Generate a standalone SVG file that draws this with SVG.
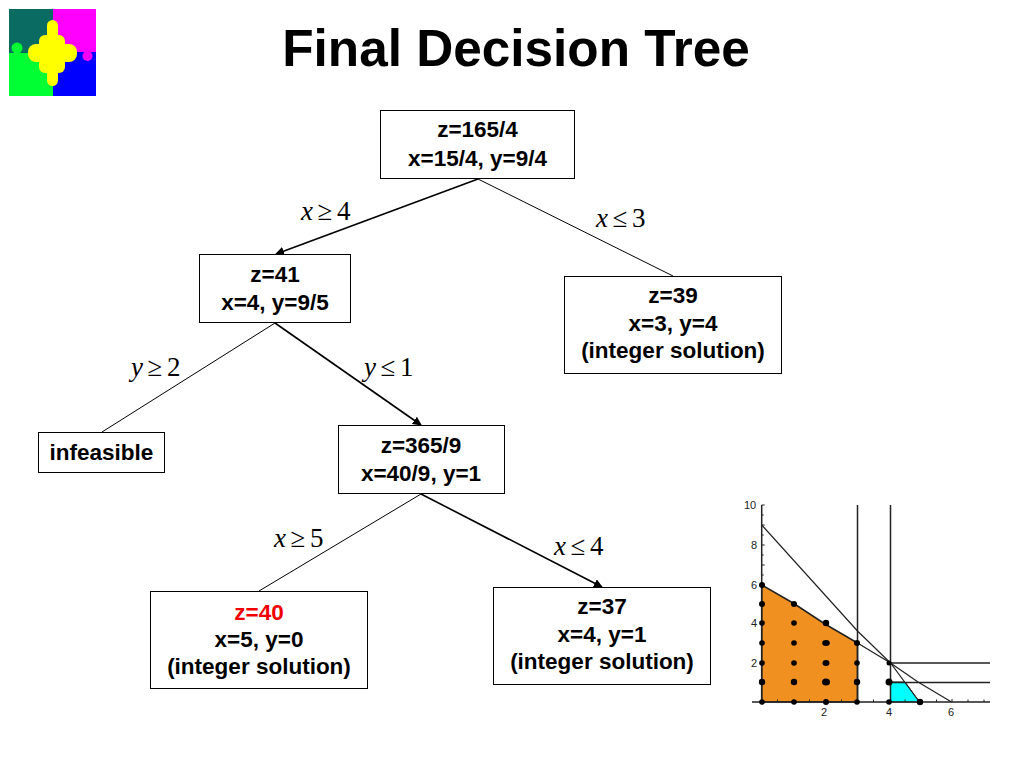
<svg xmlns="http://www.w3.org/2000/svg" width="1024" height="768" viewBox="0 0 1024 768">
<style>
.t{font-family:"Liberation Sans",Arial,sans-serif;font-weight:bold;font-size:22.5px;text-anchor:middle;fill:#000}
.title{font-family:"Liberation Sans",Arial,sans-serif;font-weight:bold;font-size:51.300px;text-anchor:middle;fill:#000}
.b{fill:#fff;stroke:#000;stroke-width:1}
.l{font-family:"Liberation Serif","Times New Roman",serif;font-size:27px;word-spacing:-2.200px;fill:#000}
.i{font-style:italic}
.e{stroke:#000;fill:none}
.ax{font-family:"Liberation Sans",Arial,sans-serif;font-size:11px;fill:#222;text-anchor:middle}
.g{stroke:#222;stroke-width:1.500;fill:none}
.d{fill:#000;stroke:none}
</style>
<defs>
<marker id="a" viewBox="0 0 10 10" refX="9" refY="5" markerWidth="9" markerHeight="9" markerUnits="userSpaceOnUse" orient="auto"><path d="M0 0L10 5L0 10Z" fill="#000"/></marker>
</defs>
<rect width="1024" height="768" fill="#fff"/>
<text class="title" x="516" y="66">Final Decision Tree</text>
<g id="logo">
<rect x="9" y="9" width="44" height="44" fill="#0a6b63"/>
<rect x="53" y="9" width="43" height="43" fill="#ff00ff"/>
<rect x="9" y="53" width="44" height="43" fill="#00ff33"/>
<rect x="53" y="52" width="43" height="44" fill="#0000ff"/>
<circle cx="17" cy="48" r="5.500" fill="#00ff33"/>
<circle cx="87.500" cy="56" r="5" fill="#ff00ff"/>
<g fill="#ffff00">
<rect x="47" y="20" width="11" height="66" rx="5.500"/>
<rect x="39" y="35" width="26" height="38" rx="6"/>
<rect x="28" y="44" width="49" height="18" rx="8"/>
</g>
</g>
<g id="connectors">
<line class="e" x1="478" y1="179" x2="276" y2="254" stroke-width="1.600" marker-end="url(#a)"/>
<line class="e" x1="478" y1="179" x2="673" y2="276" stroke-width="1"/>
<line class="e" x1="275" y1="323" x2="102" y2="432" stroke-width="1"/>
<line class="e" x1="275" y1="323" x2="421" y2="425" stroke-width="1.600" marker-end="url(#a)"/>
<line class="e" x1="421" y1="494" x2="259" y2="591" stroke-width="1"/>
<line class="e" x1="421" y1="494" x2="602" y2="587" stroke-width="1.600" marker-end="url(#a)"/>
</g>
<g id="n1"><rect class="b" x="380.500" y="110.500" width="194" height="68"/><text class="t" x="477.500" y="137">z=165/4</text><text class="t" x="477.500" y="166">x=15/4, y=9/4</text></g>
<g id="n2"><rect class="b" x="199.500" y="254.500" width="151" height="68"/><text class="t" x="275" y="282">z=41</text><text class="t" x="275" y="310">x=4, y=9/5</text></g>
<g id="n3"><rect class="b" x="564.500" y="276.500" width="217" height="97"/><text class="t" x="673" y="303">z=39</text><text class="t" x="673" y="331">x=3, y=4</text><text class="t" x="673" y="358">(integer solution)</text></g>
<g id="n4"><rect class="b" x="38.500" y="432.500" width="126" height="40"/><text class="t" x="101.500" y="460">infeasible</text></g>
<g id="n5"><rect class="b" x="338.500" y="425.500" width="166" height="68"/><text class="t" x="421" y="453">z=365/9</text><text class="t" x="421" y="481">x=40/9, y=1</text></g>
<g id="n6"><rect class="b" x="150.500" y="591.500" width="217" height="97"/><text class="t" x="259" y="620" style="fill:#f00000">z=40</text><text class="t" x="259" y="647">x=5, y=0</text><text class="t" x="259" y="674">(integer solution)</text></g>
<g id="n7"><rect class="b" x="493.500" y="587.500" width="217" height="97"/><text class="t" x="602" y="614">z=37</text><text class="t" x="602" y="642">x=4, y=1</text><text class="t" x="602" y="669">(integer solution)</text></g>
<g id="edge-labels">
<text class="l" x="301" y="220"><tspan class="i">x</tspan> ≥ 4</text>
<text class="l" x="596" y="227"><tspan class="i">x</tspan> ≤ 3</text>
<text class="l" x="131" y="376"><tspan class="i">y</tspan> ≥ 2</text>
<text class="l" x="364" y="376"><tspan class="i">y</tspan> ≤ 1</text>
<text class="l" x="274" y="547"><tspan class="i">x</tspan> ≥ 5</text>
<text class="l" x="554" y="555"><tspan class="i">x</tspan> ≤ 4</text>
</g>
<g id="chart">
<path d="M761.700 585L793 603L825 624L857.500 643V702H761.700Z" fill="#f09020" stroke="#222" stroke-width="1.500"/>
<path d="M890.500 682H905L919.500 702H890.500Z" fill="#00ffff" stroke="#222" stroke-width="1"/>
<path class="g" d="M761.700 505V702M752 702H990"/>
<path class="g" d="M857.500 505V702M890.500 505V702M890.500 663H990M890.500 682.500H990"/>
<path class="g" style="stroke-width:1.200" d="M761.700 525L857.500 631L890.500 663L918 682L951.500 702"/>
<path class="g" style="stroke-width:1.200" d="M857.500 643L890.500 663L919.500 702"/>
<path stroke="#222" stroke-width="1" fill="none" d="M761.700 505h3M761.700 515h2M761.700 525h3M761.700 535h2M761.700 545h3M761.700 555h2M761.700 565h3M761.700 575h2M777.500 702v-2.500M793.500 702v-2.500M809.500 702v-2.500M825.500 702v-3M841.500 702v-2.500M873.500 702v-2.500M905 702v-2.500M921 702v-2.500M936.500 702v-2.500M952 702v-3M968 702v-2.500M984 702v-2.500"/>
<g class="d">
<circle cx="762" cy="585" r="3"/><circle cx="762" cy="604" r="3"/><circle cx="762" cy="623" r="2.800"/><circle cx="762" cy="643" r="2.800"/><circle cx="762" cy="663" r="2.800"/><circle cx="762" cy="682" r="3.200"/><circle cx="762" cy="702" r="2.800"/>
<circle cx="794" cy="604" r="3"/><circle cx="794" cy="623" r="2.800"/><circle cx="794" cy="643" r="2.800"/><circle cx="794" cy="663" r="2.800"/><circle cx="794" cy="682" r="3.200"/><circle cx="794" cy="702" r="2.800"/>
<circle cx="826" cy="623" r="3.200"/><ellipse cx="826" cy="643" rx="3.800" ry="3"/><ellipse cx="826" cy="663" rx="3.500" ry="3"/><ellipse cx="826" cy="682" rx="4" ry="3.500"/><circle cx="826" cy="702" r="3"/>
<circle cx="857" cy="643" r="3"/><circle cx="857" cy="663" r="2.800"/><circle cx="857" cy="682" r="3.200"/><circle cx="857" cy="702" r="2.800"/>
<circle cx="889" cy="663" r="2.500"/><circle cx="889" cy="682" r="3.500"/><circle cx="889" cy="702" r="2.800"/>
<circle cx="920" cy="702" r="3.200"/>
</g>
<text class="ax" x="750" y="509">10</text><text class="ax" x="754" y="549">8</text><text class="ax" x="754" y="589">6</text><text class="ax" x="754" y="627">4</text><text class="ax" x="754" y="667">2</text>
<text class="ax" x="824" y="716">2</text><text class="ax" x="889" y="716">4</text><text class="ax" x="951" y="716">6</text>
</g>
</svg>
